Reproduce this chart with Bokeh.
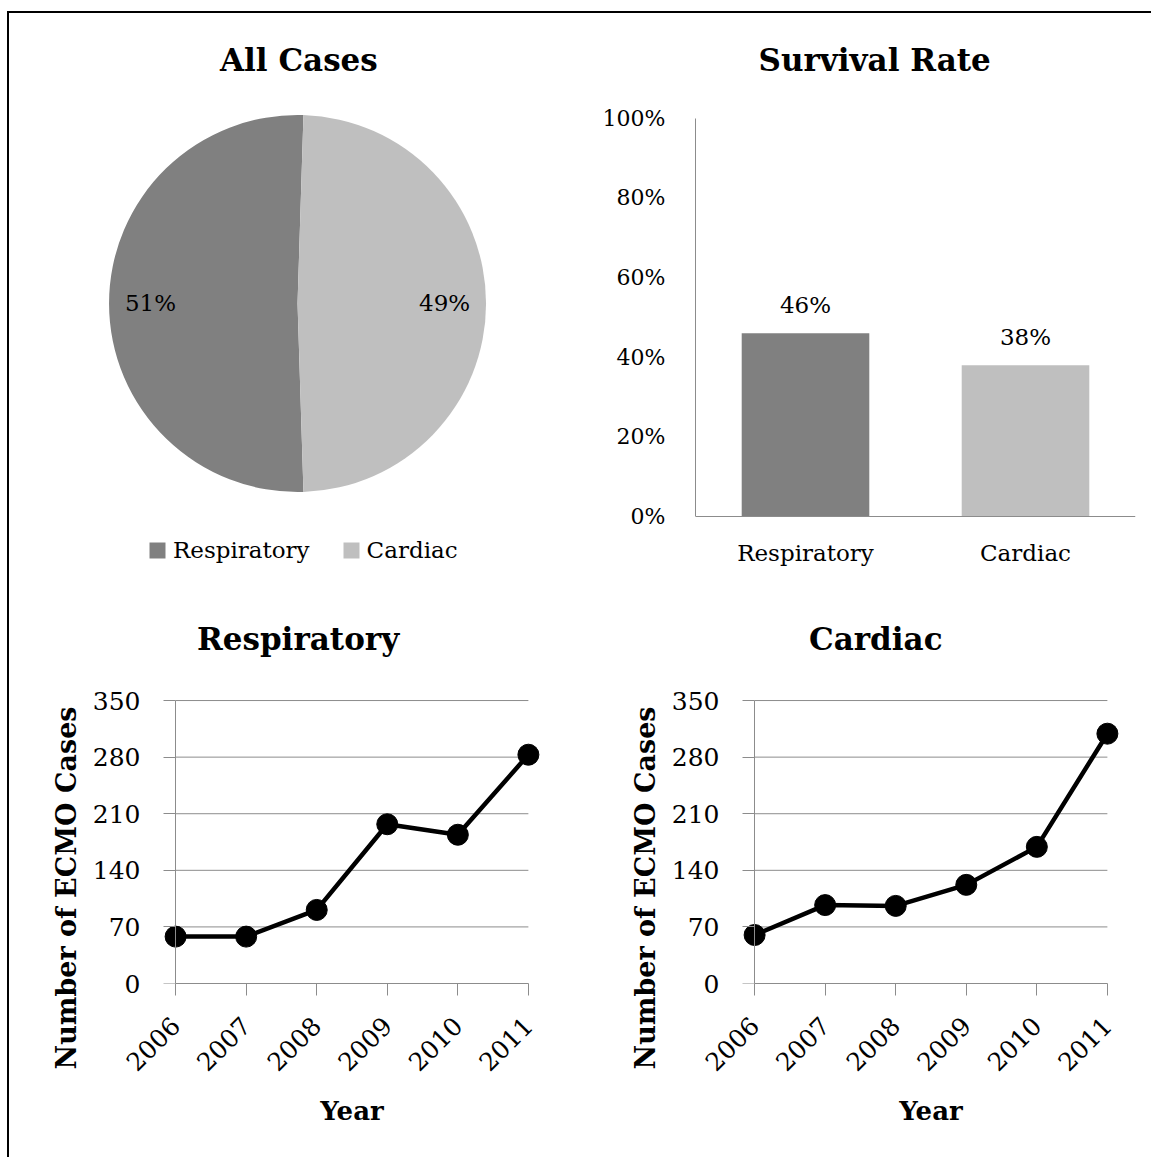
import numpy as np
from math import pi
from bokeh.plotting import figure
from bokeh.layouts import column, row
from bokeh.models import (Range1d, FactorRange, Legend, LegendItem, Title, FixedTicker,
                          NumeralTickFormatter, ColumnDataSource, LinearAxis)
from bokeh.core.properties import value
from bokeh.embed import file_html
from bokeh.resources import INLINE

FONT = "DejaVu Serif"
AXIS_GRAY = "#8c8c8c"

# ---------------- data ----------------
pie_labels = ["Respiratory", "Cardiac"]
pie_share = [51, 49]
pie_colors = ["#808080", "#bfbfbf"]

survival_cats = ["Respiratory", "Cardiac"]
survival_rate = [0.46, 0.38]
survival_colors = ["#808080", "#bfbfbf"]
pct_ticks = [0, 0.2, 0.4, 0.6, 0.8, 1.0]

years = [2006, 2007, 2008, 2009, 2010, 2011]
resp_cases = [58, 58, 91, 197, 184, 283]
card_cases = [60, 97, 96, 122, 169, 309]
case_ticks = [0, 70, 140, 210, 280, 350]


def set_title(p, text, offset, standoff):
    p.title.text = text
    p.title.text_font = FONT
    p.title.text_font_size = "31px"
    p.title.text_font_style = "bold"
    p.title.text_color = "black"
    p.title.align = "left"
    p.title.offset = offset
    p.title.standoff = standoff


TOP_H = 562

# ---------------- pie ----------------
frac = np.array(pie_share, dtype=float) / sum(pie_share)
start0 = pi - frac[0] * pi          # first slice centred on the left
ends = start0 + np.cumsum(frac) * 2 * pi
starts = np.concatenate([[start0], ends[:-1]])
mids = (starts + ends) / 2
pie_src = ColumnDataSource(dict(
    name=pie_labels, start=starts, end=ends, color=pie_colors,
    lx=0.78 * np.cos(mids), ly=0.78 * np.sin(mids),
    txt=[f"{v}%" for v in pie_share]))

# top-row frames span the same vertical band (Bokeh aligns frames within a row)
p1 = figure(width=571, height=TOP_H, x_range=Range1d(-1.528, 1.501), y_range=Range1d(-1.4430, 1.0769),
            x_axis_location=None, y_axis_location=None,
            min_border_left=0, min_border_right=0, min_border_top=87, min_border_bottom=0,
            toolbar_location=None, output_backend="svg")
p1.grid.visible = False
p1.outline_line_color = None
set_title(p1, "All Cases", 210.5, 46)
wr = p1.wedge(x=0, y=0, radius=1, start_angle="start", end_angle="end",
              fill_color="color", line_color=None, source=pie_src)
p1.text(x="lx", y="ly", text="txt", source=pie_src, text_font=value(FONT),
        text_font_size="23px", text_align="center", text_baseline="middle", text_color="black")
legend = Legend(items=[LegendItem(label=pie_labels[i], renderers=[wr], index=i) for i in range(2)],
                location=(138, 12), orientation="horizontal", glyph_width=20, glyph_height=20,
                label_standoff=6, spacing=31, padding=0, margin=0, border_line_color=None,
                background_fill_alpha=0, label_text_font=FONT, label_text_font_size="23px",
                label_text_color="black")
p1.add_layout(legend)

# ---------------- bar ----------------
p2 = figure(width=571, height=TOP_H, x_range=FactorRange(*survival_cats),
            y_range=Range1d(-0.1482, 1.0445),
            min_border_left=115, min_border_right=16, min_border_top=87, min_border_bottom=0,
            toolbar_location=None, output_backend="svg")
p2.grid.visible = False
p2.outline_line_color = None
set_title(p2, "Survival Rate", 63, 46)
bar_src = ColumnDataSource(dict(cat=survival_cats, val=survival_rate, color=survival_colors,
                                txt=[f"{v:.0%}" for v in survival_rate]))
p2.vbar(x="cat", top="val", width=0.58, fill_color="color", line_color=None, source=bar_src)
p2.text(x="cat", y="val", text="txt", source=bar_src, y_offset=-28, text_font=value(FONT),
        text_font_size="23px", text_align="center", text_baseline="middle", text_color="black")
for ax in (p2.xaxis[0], p2.yaxis[0]):
    ax.axis_line_color = AXIS_GRAY
    ax.major_tick_out = 0
    ax.major_tick_in = 0
    ax.minor_tick_out = 0
    ax.minor_tick_in = 0
    ax.major_label_text_font = FONT
    ax.major_label_text_color = "black"
p2.yaxis[0].ticker = FixedTicker(ticks=pct_ticks)
p2.yaxis[0].bounds = (pct_ticks[0], pct_ticks[-1])
p2.yaxis[0].formatter = NumeralTickFormatter(format="0%")
p2.yaxis[0].major_label_text_font_size = "22px"
p2.yaxis[0].major_label_standoff = 30
p2.xaxis[0].fixed_location = pct_ticks[0]
p2.xaxis[0].major_label_text_font_size = "23px"
p2.xaxis[0].major_label_standoff = 24


# ---------------- lines ----------------
def line_panel(title, cases, width, left, right, title_offset):
    p = figure(width=width, height=582,
               x_range=Range1d(years[0] - 0.2, years[-1] + 0.2), y_range=Range1d(0, 355),
               min_border_left=left, min_border_right=right, min_border_top=121,
               min_border_bottom=174, toolbar_location=None, output_backend="svg")
    p.grid.visible = False
    p.outline_line_color = None
    set_title(p, title, title_offset, 80)
    p.segment(x0=years[0], x1=years[-1], y0=case_ticks[1:], y1=case_ticks[1:],
              line_color=AXIS_GRAY, line_width=1)
    p.line(years, cases, line_color="black", line_width=4.5)
    p.scatter(years, cases, size=21, fill_color="black", line_color="black")

    # tick labels on the left
    yax = p.yaxis[0]
    yax.ticker = FixedTicker(ticks=case_ticks)
    yax.axis_line_color = None
    yax.major_tick_line_color = None
    yax.minor_tick_line_color = None
    yax.major_tick_out = 0
    yax.major_tick_in = 0
    yax.major_label_standoff = 21
    yax.major_label_text_font = FONT
    yax.major_label_text_font_size = "25px"
    yax.major_label_text_color = "black"

    # axis line + outward ticks sitting at the first year
    yline = LinearAxis(fixed_location=years[0], bounds=(case_ticks[0], case_ticks[-1]),
                       ticker=FixedTicker(ticks=case_ticks),
                       major_label_overrides={t: "" for t in case_ticks},
                       major_label_text_font_size="0px",
                       axis_line_color=AXIS_GRAY, major_tick_line_color=AXIS_GRAY,
                       major_tick_in=12, major_tick_out=0, minor_tick_in=0, minor_tick_out=0,
                       major_label_standoff=0)
    p.add_layout(yline, "right")

    xax = p.xaxis[0]
    xax.bounds = (years[0], years[-1])
    xax.ticker = FixedTicker(ticks=years)
    xax.major_label_orientation = pi / 4
    xax.major_label_standoff = 26
    xax.axis_label = "Year"
    xax.axis_label_text_font = FONT
    xax.axis_label_text_font_size = "26px"
    xax.axis_label_text_font_style = "bold"
    xax.axis_label_text_color = "black"
    xax.axis_label_standoff = 14
    xax.axis_line_color = AXIS_GRAY
    xax.major_tick_line_color = AXIS_GRAY
    xax.major_tick_out = 12
    xax.major_tick_in = 0
    xax.minor_tick_out = 0
    xax.minor_tick_in = 0
    xax.major_label_text_font = FONT
    xax.major_label_text_font_size = "25px"
    xax.major_label_text_color = "black"

    ytitle = Title(text="Number of ECMO Cases", align="left", offset=-86, standoff=15,
                   text_font=FONT, text_font_size="27px", text_font_style="bold",
                   text_color="black")
    p.add_layout(ytitle, "left")
    return p


p3 = line_panel("Respiratory", resp_cases, 571, 152, 38, 35.5)
p4 = line_panel("Cardiac", card_cases, 571, 160, 30, 68.5)

layout = column(row(p1, p2), row(p3, p4),
                styles={"border-left": "2px solid black", "border-top": "2px solid black",
                        "margin-top": "11px", "margin-left": "7px"})

open("out.html", "w").write(file_html(layout, INLINE))
